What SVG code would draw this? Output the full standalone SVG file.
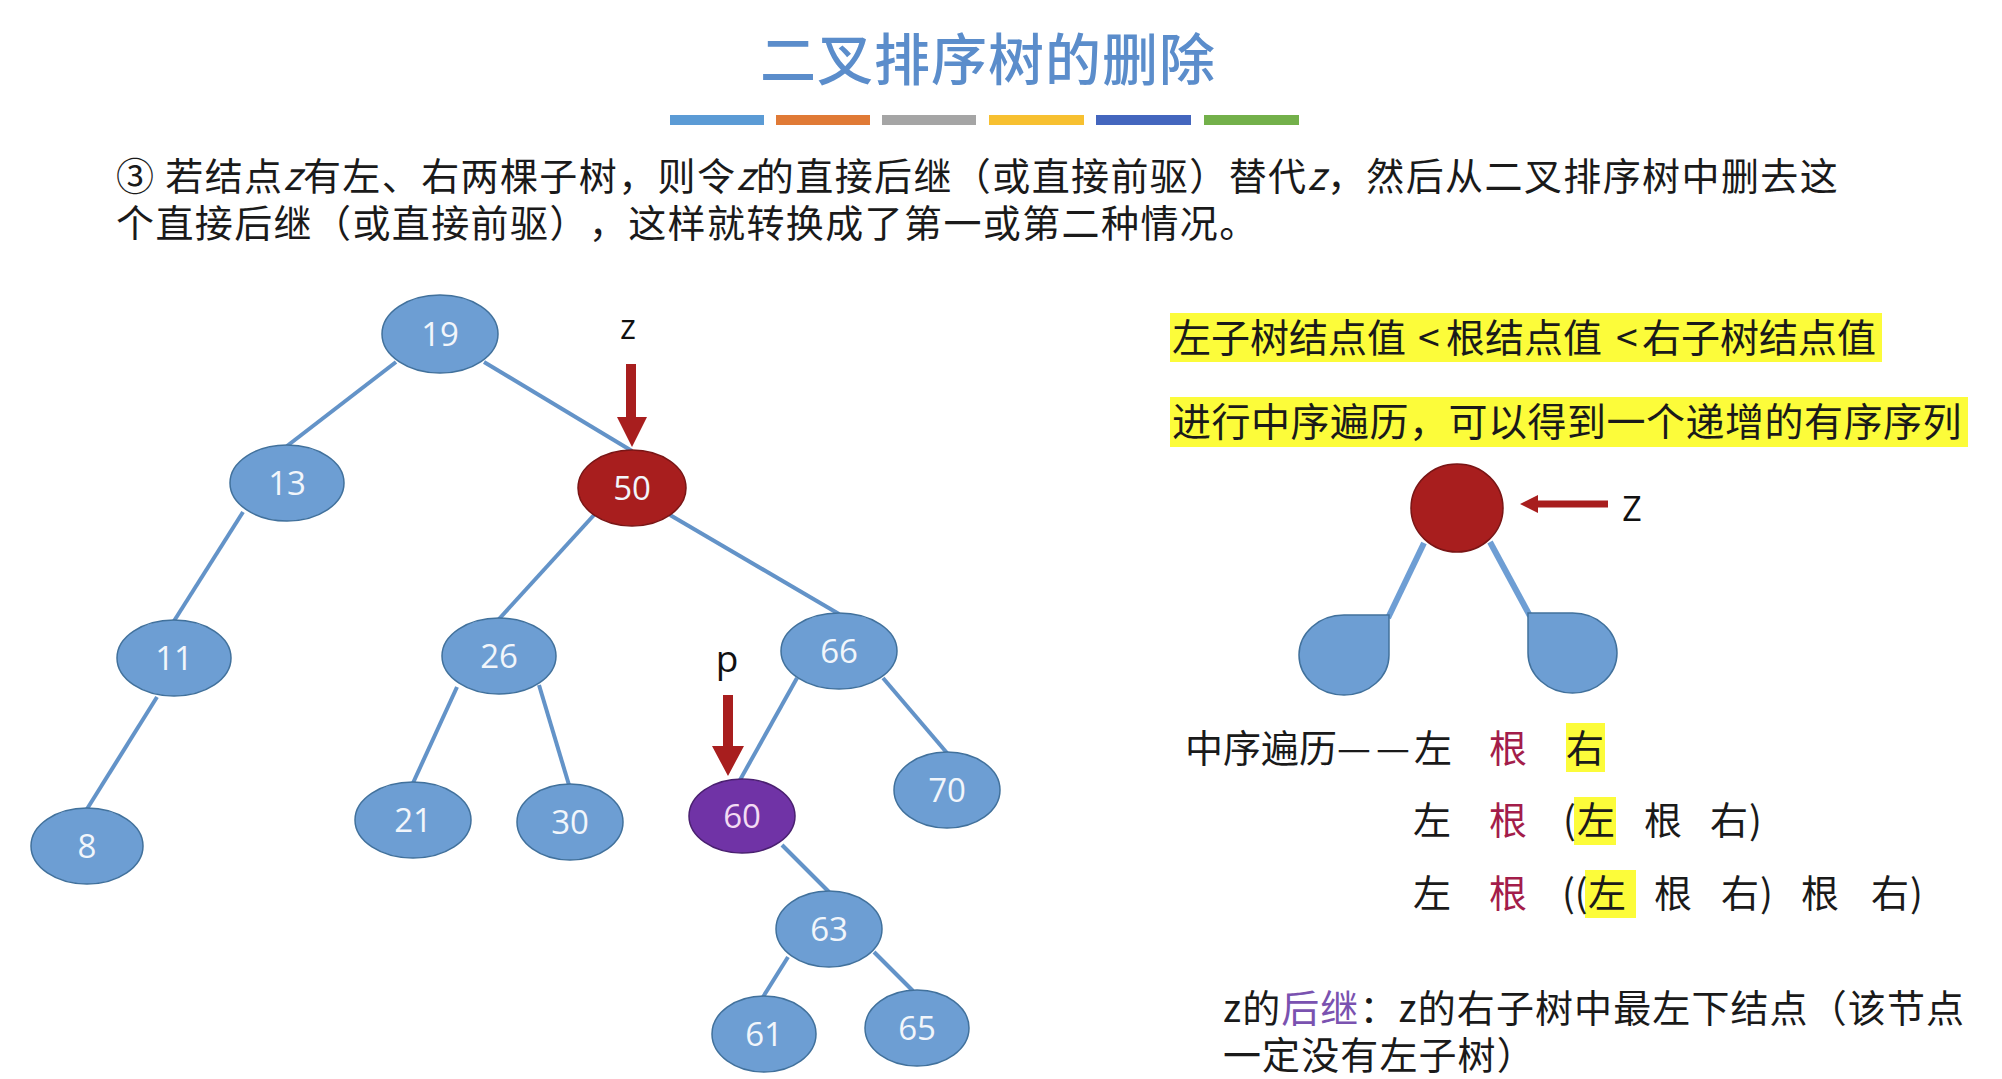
<svg xmlns="http://www.w3.org/2000/svg" width="2002" height="1079" viewBox="0 0 2002 1079">
<defs>
<style>
.cjk{font-family:"Noto Sans CJK SC","Noto Sans",sans-serif;fill:#1a1a1a;text-spacing-trim:space-all}
.node{fill:#6d9ed3;stroke:#41719c;stroke-width:1.5}
.lbl{font-family:"Open Sans","Liberation Sans",sans-serif;font-size:33px;fill:#f2f6fb;text-anchor:middle}
.edge{stroke:#6393c8;stroke-width:4;fill:none}
.hl{fill:#fcfc3a}
.root{fill:#a31d4a}
.arrow{fill:#a81e1e}
</style>
</defs>
<rect width="2002" height="1079" fill="#ffffff"/>

<!-- title -->
<text class="cjk" x="988" y="80" font-size="56" font-weight="500" text-anchor="middle" letter-spacing="1" style="fill:#5b8dcb">二叉排序树的删除</text>
<g id="bars">
<rect x="670" y="115" width="94" height="10" fill="#5b9bd5"/>
<rect x="776" y="115" width="94" height="10" fill="#e07a36"/>
<rect x="882" y="115" width="94" height="10" fill="#a5a5a5"/>
<rect x="989" y="115" width="95" height="10" fill="#f7c030"/>
<rect x="1096" y="115" width="95" height="10" fill="#4466be"/>
<rect x="1204" y="115" width="95" height="10" fill="#73b04a"/>
</g>

<!-- body text -->
<text class="cjk" x="116" y="190" font-size="38" letter-spacing="1.4">③ 若结点<tspan font-style="italic">z</tspan>有左、右两棵子树，则令<tspan font-style="italic">z</tspan>的直接后继（或直接前驱）替代<tspan font-style="italic">z</tspan>，然后从二叉排序树中删去这</text>
<text class="cjk" x="116" y="237" font-size="38" letter-spacing="1.4">个直接后继（或直接前驱），这样就转换成了第一或第二种情况。</text>

<!-- connectors -->
<g id="edges">
<line class="edge" x1="396" y1="362" x2="287" y2="446"/>
<line class="edge" x1="484" y1="362" x2="632" y2="451"/>
<line class="edge" x1="243" y1="512" x2="174" y2="621"/>
<line class="edge" x1="594" y1="515" x2="499" y2="619"/>
<line class="edge" x1="670" y1="515" x2="839" y2="614"/>
<line class="edge" x1="157" y1="697" x2="87" y2="809"/>
<line class="edge" x1="457" y1="687" x2="413" y2="783"/>
<line class="edge" x1="539" y1="685" x2="569" y2="785"/>
<line class="edge" x1="797" y1="678" x2="740" y2="780"/>
<line class="edge" x1="883" y1="678" x2="947" y2="753"/>
<line class="edge" x1="782" y1="845" x2="829" y2="892"/>
<line class="edge" x1="788" y1="957" x2="763" y2="997"/>
<line class="edge" x1="874" y1="952" x2="913" y2="991"/>
<line class="edge" x1="1424" y1="543" x2="1388" y2="618" style="stroke:#6e9ed4;stroke-width:6"/>
<line class="edge" x1="1490" y1="542" x2="1530" y2="616" style="stroke:#6e9ed4;stroke-width:6"/>
</g>

<!-- nodes -->
<g id="n19"><ellipse class="node" cx="440" cy="334" rx="58" ry="39"/><text class="lbl" x="440" y="346">19</text></g>
<g id="n13"><ellipse class="node" cx="287" cy="483" rx="57" ry="38"/><text class="lbl" x="287" y="495">13</text></g>
<g id="n50"><ellipse class="node" cx="632" cy="488" rx="54" ry="38" style="fill:#a81e1e;stroke:#7a1515"/><text class="lbl" x="632" y="500">50</text></g>
<g id="n11"><ellipse class="node" cx="174" cy="658" rx="57" ry="38"/><text class="lbl" x="174" y="670">11</text></g>
<g id="n26"><ellipse class="node" cx="499" cy="656" rx="57" ry="38"/><text class="lbl" x="499" y="668">26</text></g>
<g id="n66"><ellipse class="node" cx="839" cy="651" rx="58" ry="38"/><text class="lbl" x="839" y="663">66</text></g>
<g id="n8"><ellipse class="node" cx="87" cy="846" rx="56" ry="38"/><text class="lbl" x="87" y="858">8</text></g>
<g id="n21"><ellipse class="node" cx="413" cy="820" rx="58" ry="38"/><text class="lbl" x="413" y="832">21</text></g>
<g id="n30"><ellipse class="node" cx="570" cy="822" rx="53" ry="38"/><text class="lbl" x="570" y="834">30</text></g>
<g id="n60"><ellipse class="node" cx="742" cy="816" rx="53" ry="37" style="fill:#7033a6;stroke:#4a2070"/><text class="lbl" x="742" y="828" style="fill:#f3dcf3">60</text></g>
<g id="n70"><ellipse class="node" cx="947" cy="790" rx="53" ry="38"/><text class="lbl" x="947" y="802">70</text></g>
<g id="n63"><ellipse class="node" cx="829" cy="929" rx="53" ry="38"/><text class="lbl" x="829" y="941">63</text></g>
<g id="n61"><ellipse class="node" cx="764" cy="1034" rx="52" ry="38"/><text class="lbl" x="764" y="1046">61</text></g>
<g id="n65"><ellipse class="node" cx="917" cy="1028" rx="52" ry="38"/><text class="lbl" x="917" y="1040">65</text></g>

<!-- pointer arrows -->
<g id="zptr">
<text x="628" y="339" font-family="Open Sans, Liberation Sans, sans-serif" font-size="34" text-anchor="middle" fill="#111">z</text>
<path class="arrow" d="M626,364 L636,364 L636,417 L647,417 L632,447 L617,417 L626,417 Z"/>
</g>
<g id="pptr">
<text x="727" y="672" font-family="Open Sans, Liberation Sans, sans-serif" font-size="37" text-anchor="middle" fill="#111">p</text>
<path class="arrow" d="M723,695 L733,695 L733,746 L744,746 L728,776 L712,746 L723,746 Z"/>
</g>

<!-- right side -->
<g id="rule1">
<rect class="hl" x="1170" y="313" width="712" height="49"/>
<text class="cjk" y="352" font-size="39"><tspan x="1172">左子树结点值</tspan><tspan x="1418">&lt;</tspan><tspan x="1446">根结点值</tspan><tspan x="1616">&lt;</tspan><tspan x="1642">右子树结点值</tspan></text>
</g>
<g id="rule2">
<rect class="hl" x="1170" y="397" width="798" height="50"/>
<text class="cjk" x="1172" y="436" font-size="39" letter-spacing="0.5">进行中序遍历，可以得到一个递增的有序序列</text>
</g>

<g id="zroot">
<ellipse cx="1457" cy="508" rx="46" ry="44" fill="#a81e1e" stroke="#7a1515" stroke-width="1.5"/>
</g>
<g id="zarrow">
<path class="arrow" d="M1608,500.5 L1538,500.5 L1538,495 L1520,504 L1538,513 L1538,507.5 L1608,507.5 Z"/>
<text x="1632" y="521" font-family="Open Sans, Liberation Sans, sans-serif" font-size="34" text-anchor="middle" fill="#111">Z</text>
</g>
<g id="leftsub">
<path class="node" d="M1344,615 L1389,615 L1389,655 A45,40 0 0 1 1344,695 A45,40 0 0 1 1299,655 A45,40 0 0 1 1344,615 Z"/>
</g>
<g id="rightsub">
<path class="node" d="M1528,613 L1572.5,613 A44.5,40 0 0 1 1617,653 A44.5,40 0 0 1 1572.5,693 A44.5,40 0 0 1 1528,653 Z"/>
</g>

<g id="inorder">
<rect class="hl" x="1566" y="723" width="39" height="49"/>
<rect class="hl" x="1574" y="797" width="42" height="48"/>
<rect class="hl" x="1585" y="870" width="51" height="48"/>
<text class="cjk" y="762" font-size="38"><tspan x="1185">中序遍历—</tspan><tspan x="1376">—</tspan><tspan x="1414">左</tspan><tspan x="1489" class="root">根</tspan><tspan x="1566">右</tspan></text>
<text class="cjk" y="834" font-size="38"><tspan x="1413">左</tspan><tspan x="1489" class="root">根</tspan><tspan x="1563">(</tspan><tspan x="1577">左</tspan><tspan x="1644">根</tspan><tspan x="1710">右</tspan><tspan x="1749">)</tspan></text>
<text class="cjk" y="907" font-size="38"><tspan x="1413">左</tspan><tspan x="1489" class="root">根</tspan><tspan x="1562">((</tspan><tspan x="1588">左</tspan><tspan x="1654">根</tspan><tspan x="1721">右</tspan><tspan x="1760">)</tspan><tspan x="1801">根</tspan><tspan x="1871">右</tspan><tspan x="1910">)</tspan></text>
</g>

<g id="note">
<text class="cjk" x="1223" y="1022" font-size="38" letter-spacing="1.1">z的<tspan style="fill:#7a52b0">后继</tspan>：z的右子树中最左下结点（该节点</text>
<text class="cjk" x="1223" y="1069" font-size="38" letter-spacing="1.1">一定没有左子树）</text>
</g>
</svg>
